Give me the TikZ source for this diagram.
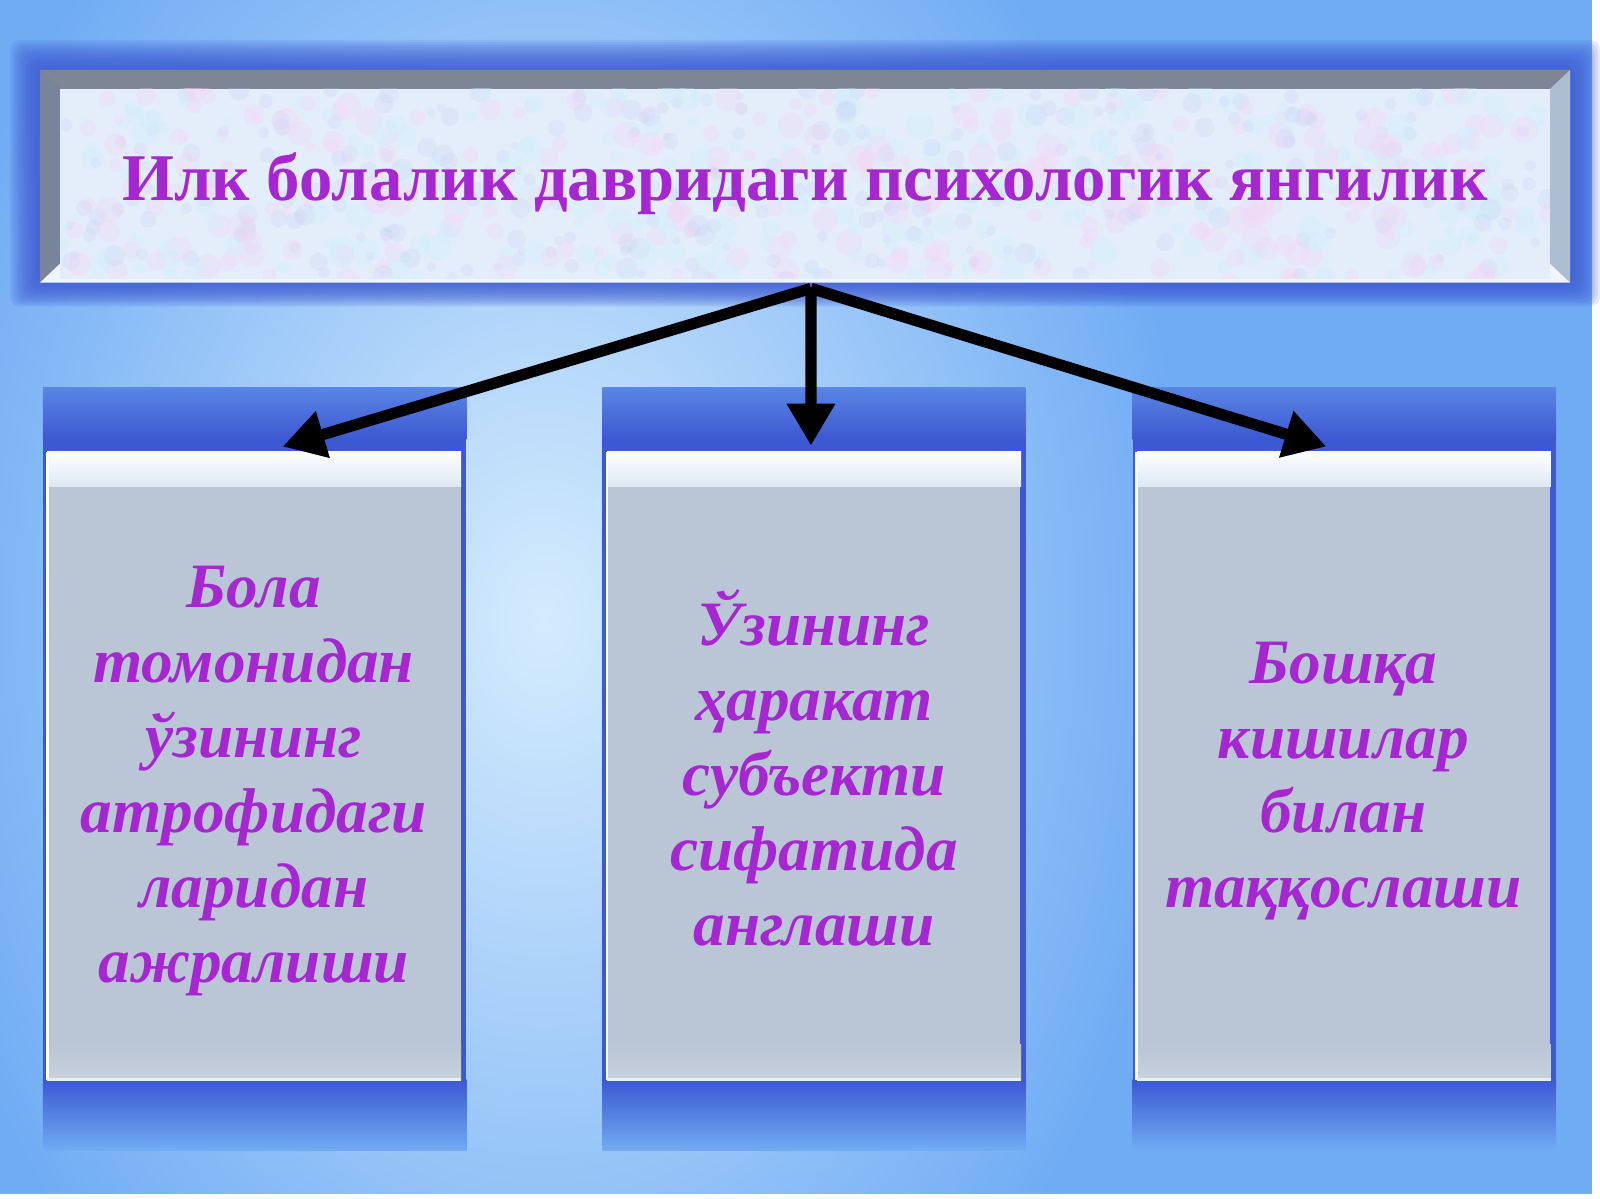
\documentclass[tikz,border=0pt]{standalone}
\usepackage{fontspec}
\setmainfont{Liberation Serif}
\usetikzlibrary{arrows.meta}

\definecolor{bgblue}{RGB}{112,172,244}
\definecolor{bglight}{RGB}{212,235,253}
\definecolor{glowblue}{RGB}{60,88,210}
\definecolor{faceblue}{RGB}{228,238,250}
\definecolor{bevtop}{RGB}{126,134,150}
\definecolor{bevleft}{RGB}{120,132,156}
\definecolor{bevright}{RGB}{172,190,210}
\definecolor{boxgrey}{RGB}{186,198,214}
\definecolor{boxtop}{RGB}{222,232,244}
\definecolor{boxbot}{RGB}{200,208,220}
\definecolor{textpurple}{RGB}{166,38,210}
\definecolor{speckpink}{RGB}{246,210,246}
\definecolor{speckcyan}{RGB}{204,240,252}
\definecolor{specklav}{RGB}{204,208,244}

\begin{document}
\begin{tikzpicture}[x=0.01cm, y=-0.01cm,
	titlebox/.style = {rectangle, inner sep=0pt, minimum width=14.92cm, minimum height=1.9cm,
		text=textpurple, font=\fontsize{19}{23}\selectfont\bfseries},
	panel/.style = {rectangle, inner sep=0pt, minimum width=4.13cm, minimum height=6.27cm, fill=boxgrey},
	paneltext/.style = {align=center, text=textpurple, font=\fontsize{18}{21.3}\selectfont\bfseries\itshape},
	link/.style = {line width=3.2pt, -{Triangle[width=0.46cm,length=0.42cm]}}]
		% background
		\fill [bgblue] (0,0) rectangle (1600,1200);
		\begin{scope}
		\clip (0,0) rectangle (1600,1200);
		\shade [inner color=bglight, outer color=bgblue] (545,620) ellipse [x radius=6.5cm, y radius=9cm];
		\end{scope}
		\fill [white] (1594,0) rectangle (1600,1200);
		\fill [white] (0,1195) rectangle (1600,1200);
		
		% glow round the heading
		\foreach \g in {1,...,12}
			\fill [glowblue, opacity=.13, rounded corners=1mm] (40-2.5*\g,70-2.5*\g) rectangle (1572+2.5*\g,283+2*\g);
		
		% columns behind the panels
		\foreach \cx in {255,815,1346} {
			\shade [top color=glowblue!45!bgblue, bottom color=glowblue] (\cx-212,388) rectangle (\cx+212,440);
			\fill [glowblue] (\cx-212,439) rectangle (\cx+212,1082);
			\shade [top color=glowblue, bottom color=bgblue] (\cx-212,1081) rectangle (\cx+212,1152);
		}
		
		% heading
		\fill [bevtop] (40,70) -- (1572,70) -- (1552,89) -- (60,89) -- cycle;
		\fill [bevleft] (40,70) -- (60,89) -- (60,264) -- (40,283) -- cycle;
		\fill [bevright] (1572,70) -- (1552,89) -- (1552,264) -- (1572,283) -- cycle;
		\fill [faceblue!60!white] (40,283) -- (60,264) -- (1552,264) -- (1572,283) -- cycle;
		\fill [faceblue] (60,89) rectangle (1552,279);
		\begin{scope}
		\clip (60,89) rectangle (1552,279);
		\pgfmathsetseed{7}
		\foreach \i in {1,...,260} {
			\fill [speckpink, opacity=.3] (60+1492*rnd,89+190*rnd) circle ({5+9*rnd});
			\fill [speckcyan, opacity=.3] (60+1492*rnd,89+190*rnd) circle ({5+9*rnd});
			\fill [specklav, opacity=.25] (60+1492*rnd,89+190*rnd) circle ({4+7*rnd});
		}
		\end{scope}
		\node (title) at (806,184) [titlebox] {Илк болалик давридаги психологик янгилик};
		
		% panels
		\node (bola) at (254.5,766.5) [panel] {};
		\node (uzi) at (815,766.5) [panel] {};
		\node (bosh) at (1345.5,766.5) [panel] {};
		\foreach \p in {bola,uzi,bosh} {
			\shade [top color=white, bottom color=boxtop] (\p.north west) rectangle ([yshift=-0.35cm]\p.north east);
			\shade [top color=boxgrey, bottom color=boxbot] ([yshift=0.35cm]\p.south west) rectangle (\p.south east);
			\draw [white, line width=.8pt] (\p.north west) -- (\p.south west);
			\draw [white!70!boxgrey, line width=1pt] (\p.south west) -- (\p.south east);
		}
		
		\node (bolaText) at (254,782) [paneltext] {Бола\\томонидан\\ўзининг\\атрофидаги\\ларидан\\ажралиши};
		\node (uziText) at (815,769) [paneltext] {Ўзининг\\ҳаракат\\субъекти\\сифатида\\англаши};
		\node (boshText) at (1345,782) [paneltext] {Бошқа\\кишилар\\билан\\таққослаши};
		
		% arrows
		\coordinate (hub) at ([xshift=0.06cm,yshift=-0.09cm]title.south);
		\draw [link] (hub) -- ([xshift=0.285cm,yshift=0.05cm]bola.north);
		\draw [link] (hub) -- ([xshift=-0.03cm,yshift=0.06cm]uzi.north);
		\draw [link] (hub) -- ([xshift=-0.175cm,yshift=0.05cm]bosh.north);
\end{tikzpicture}
\end{document}
